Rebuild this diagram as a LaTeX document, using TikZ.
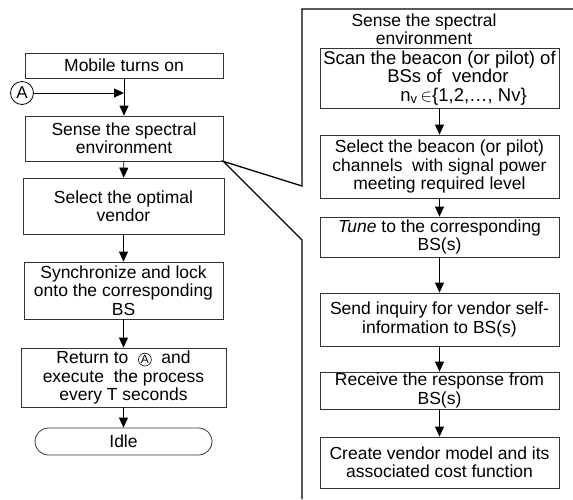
\documentclass[tikz,border=0pt]{standalone}
\usepackage{fontspec}
\setmainfont{Liberation Sans}
\usetikzlibrary{arrows.meta,shapes.misc}
\newcommand{\circledA}{\tikz[baseline=(ca.base),x=1pt,y=1pt]\node[draw,circle,minimum size=0pt,inner sep=0.5pt,line width=0.6pt,font=\fontsize{12}{12}\selectfont](ca){A};}
\tikzset{
  fbox/.style={draw=black!80,line width=0.8pt,inner sep=0pt,align=center,
    font=\fontsize{17.5}{18.3}\selectfont},
  flow/.style={line width=0.8pt,-{Triangle[length=10pt,width=9pt]}},
  panel/.style={line width=1.3pt,line join=miter}
}
\begin{document}
\begin{tikzpicture}[x=1pt,y=-1pt]
\useasboundingbox (0,0) rectangle (573,499);
% left column
\node[fbox,minimum width=198pt,minimum height=25pt] (mob) at (124,65.5) {Mobile turns on};
\node[fbox,minimum width=198pt,minimum height=45pt] (sense) at (124,138.5) {Sense the spectral\\environment};
\node[fbox,minimum width=201pt,minimum height=56pt] (opt) at (123.5,206) {Select the optimal\\vendor};
\node[fbox,minimum width=199pt,minimum height=57pt] (sync) at (123.5,290.5) {Synchronize and lock\\onto the corresponding\\BS};
\node[fbox,minimum width=205pt,minimum height=59pt] (ret) at (123.5,377.5) {Return to\ \ \circledA\ \ and\\execute\ \ the process\\every T seconds};
\node[fbox,rounded rectangle,minimum width=177pt,minimum height=27pt] (idle) at (123.5,441.5) {Idle};
\node[draw,circle,line width=0.8pt,inner sep=0pt,minimum size=23pt,font=\fontsize{17}{17}\selectfont] (cA) at (22,93) {A};
\coordinate (j) at (mob.south |- cA);
\draw[flow] (mob) -- (sense);
\draw[flow] (cA) -- (j);
\draw[flow] (sense) -- (opt);
\draw[flow] (opt) -- (sync);
\draw[flow] (sync) -- (ret);
\draw[flow] (ret) -- (idle);
% panel
\coordinate (p1) at (573,9);
\coordinate (p2) at (302,9);
\coordinate (p3) at (302,186);
\coordinate (p4) at (302,240);
\coordinate (p5) at (302,499);
\draw[panel] (p1) -- (p2) -- (p3) -- (sense.south east) -- (p4) -- (p5);
\node[align=center,inner sep=0pt,font=\fontsize{17.5}{18.3}\selectfont] (title) at (424,29) {Sense the spectral\\environment};
% right column
\node[fbox,minimum width=239pt,minimum height=60pt,align=left,font=\fontsize{18.5}{18.6}\selectfont] (scan) at (439.5,78) {Scan the beacon (or pilot) of\\\hspace*{64pt}BSs of\ \ vendor\\\hspace*{77pt}n\textsubscript{v}\,$\in$\{1,2,\dots, Nv\}};
\node[fbox,minimum width=239pt,minimum height=63pt] (selb) at (439.5,166.5) {Select the beacon (or pilot)\\channels\ \ with signal power\\meeting required level};
\node[fbox,minimum width=239pt,minimum height=40pt] (tune) at (439.5,237) {\textit{Tune} to the corresponding\\BS(s)};
\node[fbox,minimum width=239pt,minimum height=53pt] (send) at (439.5,319.5) {Send inquiry for vendor self-\\information to BS(s)};
\node[fbox,minimum width=239pt,minimum height=37pt] (recv) at (439.5,390.5) {Receive the response from\\BS(s)};
\node[fbox,minimum width=239pt,minimum height=51pt] (create) at (439.5,462.5) {Create vendor model and its\\associated cost function};
\draw[flow] (scan) -- (selb);
\draw[flow] (selb) -- (tune);
\draw[flow] (tune) -- (send);
\draw[flow] (send) -- (recv);
\draw[flow] (recv) -- (create);
\end{tikzpicture}
\end{document}
